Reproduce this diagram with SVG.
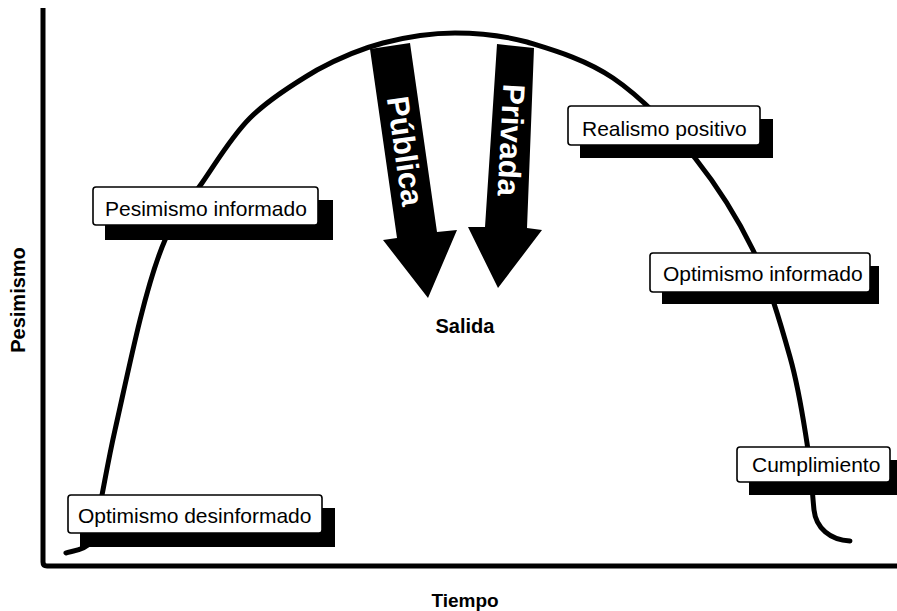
<svg xmlns="http://www.w3.org/2000/svg" width="897" height="611" viewBox="0 0 897 611">
<style>
.box{fill:#fff;stroke:#000;stroke-width:1.6}
.sh{fill:#000}
.lbl{font-family:"Liberation Sans",Arial,sans-serif;font-size:21px;fill:#000}
.ax{font-family:"Liberation Sans",Arial,sans-serif;font-size:19px;font-weight:bold;fill:#000}
.arw{font-family:"Liberation Sans",Arial,sans-serif;font-size:31px;font-weight:bold;fill:#fff}
</style>
<rect width="897" height="611" fill="#fff"/>
<g id="axes">
<path d="M43,8 V562 Q43,566 47,566 H897" fill="none" stroke="#000" stroke-width="5" stroke-linejoin="round"/>
<text class="ax" x="465" y="607" text-anchor="middle">Tiempo</text>
<text class="ax" transform="translate(25,300) rotate(-90)" text-anchor="middle" style="font-size:20px">Pesimismo</text>
</g>
<g id="connectors">
<path id="curve" d="M66,553 C70,551 84,551 90,543 C96,535 96,524 100,505 C104,486 108,461 115,430 C122,399 132,352 140,320 C148,288 155,263 165,240 C175,217 188,203 202,183 C216,163 231,137 250,118 C269,99 295,83 317,70 C339,58 360,49 383,43 C406,37 431,33 455,33 C479,33 501,35 527,42 C553,50 585,59 613,78 C641,97 672,129 695,158 C718,187 737,217 753,250 C769,283 781,325 790,357 C799,389 803,418 807,443 C811,468 812,490 814,510 C816,528 830,540 850,541" fill="none" stroke="#000" stroke-width="5" stroke-linecap="round"/>
</g>
<g id="arrow-publica">
<polygon points="370,49 410,43 437,232 457,230 428,298 383,240 397,238" fill="#000"/>
<text class="arw" transform="translate(405,151) rotate(81.8)" text-anchor="middle" dominant-baseline="central">Pública</text>
</g>
<g id="arrow-privada">
<polygon points="497,44 534,48 527,228 542,230 498,288 468,227 485,227" fill="#000"/>
<text class="arw" transform="translate(511,140) rotate(93)" text-anchor="middle" dominant-baseline="central">Privada</text>
</g>
<g id="salida">
<text class="ax" x="465" y="333" text-anchor="middle" style="font-size:20px">Salida</text>
</g>
<g id="pesimismo-informado">
<rect class="sh" x="105" y="200" width="228" height="40"/>
<rect class="box" x="93" y="187" width="225" height="38" rx="3"/>
<text class="lbl" x="105" y="216">Pesimismo informado</text>
</g>
<g id="optimismo-desinformado">
<rect class="sh" x="80" y="508" width="255" height="39"/>
<rect class="box" x="68" y="495" width="254" height="38" rx="3"/>
<text class="lbl" x="78" y="523">Optimismo desinformado</text>
</g>
<g id="realismo-positivo">
<rect class="sh" x="580" y="119" width="193" height="39"/>
<rect class="box" x="568" y="106" width="192" height="39" rx="3"/>
<text class="lbl" x="582" y="136">Realismo positivo</text>
</g>
<g id="optimismo-informado">
<rect class="sh" x="662" y="266" width="217" height="38"/>
<rect class="box" x="650" y="253" width="220" height="39" rx="3"/>
<text class="lbl" x="663" y="281">Optimismo informado</text>
</g>
<g id="cumplimiento">
<rect class="sh" x="749" y="460" width="148" height="35"/>
<rect class="box" x="737" y="447" width="153" height="35" rx="3"/>
<text class="lbl" x="752" y="472">Cumplimiento</text>
</g>
</svg>
